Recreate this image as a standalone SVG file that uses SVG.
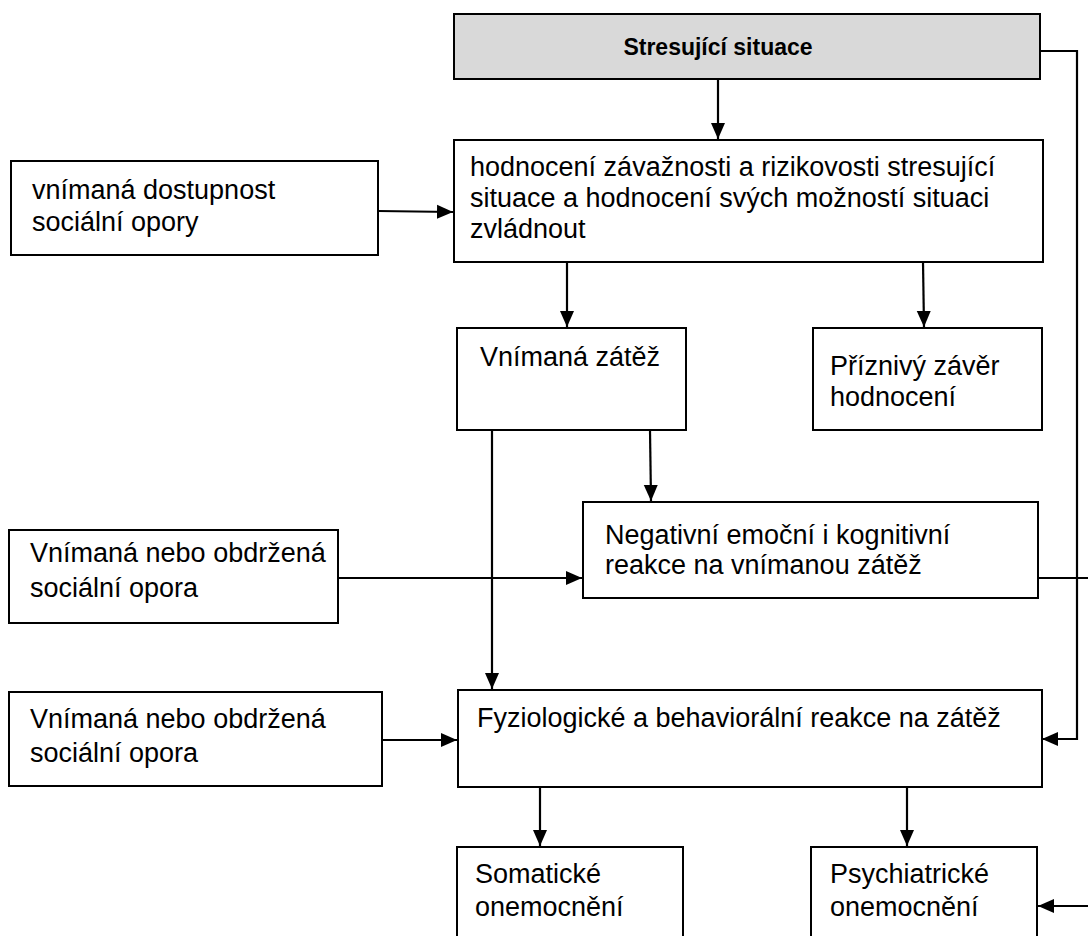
<svg xmlns="http://www.w3.org/2000/svg" width="1088" height="936" viewBox="0 0 1088 936">
<style>
.box{fill:#ffffff;stroke:#000;stroke-width:2}
.grey{fill:#d9d9d9;stroke:#000;stroke-width:2}
.t{font-family:"Liberation Sans",Arial,sans-serif;font-size:27px;fill:#000}
.b{font-weight:bold;text-anchor:middle;font-size:23px}
.c{fill:none;stroke:#000;stroke-width:2.2}
</style>
<defs>
<marker id="ah" markerWidth="17" markerHeight="16" refX="16" refY="8" orient="auto" markerUnits="userSpaceOnUse">
<path d="M0,1 L16,8 L0,15 Z" fill="#000"/>
</marker>
</defs>
<rect width="1088" height="936" fill="#fff"/>
<g id="connectors">
<line class="c" x1="718" y1="79" x2="718" y2="139" marker-end="url(#ah)"/>
<line class="c" x1="378" y1="211" x2="453" y2="212" marker-end="url(#ah)"/>
<line class="c" x1="567" y1="262" x2="567" y2="327" marker-end="url(#ah)"/>
<line class="c" x1="923" y1="262" x2="924" y2="327" marker-end="url(#ah)"/>
<line class="c" x1="492" y1="430" x2="492" y2="689" marker-end="url(#ah)"/>
<line class="c" x1="650" y1="430" x2="651" y2="501" marker-end="url(#ah)"/>
<line class="c" x1="338" y1="578" x2="582" y2="578" marker-end="url(#ah)"/>
<line class="c" x1="382" y1="740" x2="457" y2="740" marker-end="url(#ah)"/>
<line class="c" x1="540" y1="787" x2="540" y2="846" marker-end="url(#ah)"/>
<line class="c" x1="907" y1="787" x2="907" y2="846" marker-end="url(#ah)"/>
<polyline class="c" points="1040,51 1077,51 1077,739 1042,739" marker-end="url(#ah)"/>
<line class="c" x1="1038" y1="578" x2="1088" y2="578"/>
<line class="c" x1="1088" y1="906" x2="1038" y2="906" marker-end="url(#ah)"/>
</g>
<g id="n-stres">
<rect class="grey" x="454" y="14" width="586" height="65"/>
<text class="t b" x="718" y="55">Stresující situace</text>
</g>
<g id="n-hodnoceni">
<rect class="box" x="454" y="140" width="589" height="122"/>
<text class="t" x="470" y="176">hodnocení závažnosti a rizikovosti stresující</text>
<text class="t" x="470" y="207">situace a hodnocení svých možností situaci</text>
<text class="t" x="470" y="238">zvládnout</text>
</g>
<g id="n-dostupnost">
<rect class="box" x="11" y="161" width="367" height="94"/>
<text class="t" x="32" y="199">vnímaná dostupnost</text>
<text class="t" x="32" y="231">sociální opory</text>
</g>
<g id="n-zatez">
<rect class="box" x="457" y="328" width="229" height="102"/>
<text class="t" x="480" y="366">Vnímaná zátěž</text>
</g>
<g id="n-priznivy">
<rect class="box" x="813" y="328" width="229" height="102"/>
<text class="t" x="830" y="375">Příznivý závěr</text>
<text class="t" x="830" y="406">hodnocení</text>
</g>
<g id="n-negativni">
<rect class="box" x="583" y="502" width="455" height="96"/>
<text class="t" x="605" y="544">Negativní emoční i kognitivní</text>
<text class="t" x="605" y="574">reakce na vnímanou zátěž</text>
</g>
<g id="n-opora1">
<rect class="box" x="9" y="530" width="329" height="93"/>
<text class="t" x="30" y="562">Vnímaná nebo obdržená</text>
<text class="t" x="30" y="597">sociální opora</text>
</g>
<g id="n-opora2">
<rect class="box" x="9" y="692" width="373" height="94"/>
<text class="t" x="30" y="728">Vnímaná nebo obdržená</text>
<text class="t" x="30" y="762">sociální opora</text>
</g>
<g id="n-fyziologicke">
<rect class="box" x="458" y="690" width="584" height="97"/>
<text class="t" x="477" y="727">Fyziologické a behaviorální reakce na zátěž</text>
</g>
<g id="n-somaticke">
<rect class="box" x="457" y="847" width="226" height="100"/>
<text class="t" x="475" y="883">Somatické</text>
<text class="t" x="475" y="916">onemocnění</text>
</g>
<g id="n-psychiatricke">
<rect class="box" x="811" y="847" width="226" height="100"/>
<text class="t" x="830" y="883">Psychiatrické</text>
<text class="t" x="830" y="916">onemocnění</text>
</g>
</svg>
